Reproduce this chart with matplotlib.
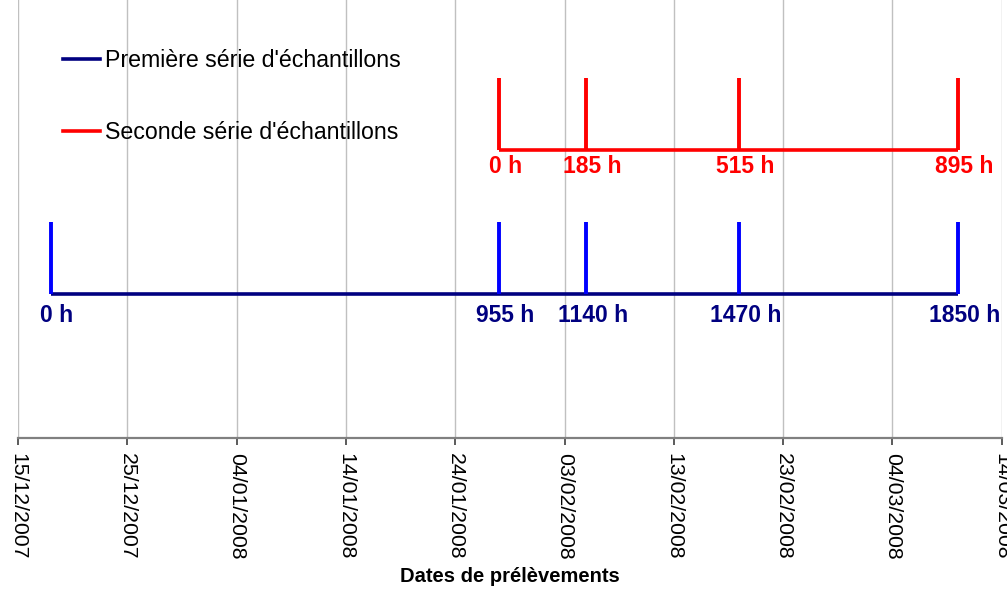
import pandas as pd
import matplotlib
matplotlib.use('Agg')
import matplotlib.pyplot as plt
import matplotlib.dates as mdates
from matplotlib.patches import Rectangle
from matplotlib.lines import Line2D

plt.rcParams['font.family'] = ['Liberation Sans', 'DejaVu Sans']

# données
serie1_dates = pd.to_datetime(['2007-12-18', '2008-01-28', '2008-02-05', '2008-02-19', '2008-03-10'])
serie1_heures = [0, 955, 1140, 1470, 1850]
serie2_dates = pd.to_datetime(['2008-01-28', '2008-02-05', '2008-02-19', '2008-03-10'])
serie2_heures = [0, 185, 515, 895]
noms = ["Première série d'échantillons", "Seconde série d'échantillons"]
debut, fin = pd.Timestamp('2007-12-15'), pd.Timestamp('2008-03-14')
ticks = pd.date_range(debut, fin, freq='10D')

navy, bleu, rouge = '#000080', '#0000FF', '#FF0000'

fig = plt.figure(figsize=(10.07, 5.89), dpi=100)
ax = fig.add_axes([18 / 1007, 1 - 438 / 589, (1001.7 - 18) / 1007, 438 / 589])

ax.set_xlim(debut, fin)
ax.set_ylim(0, 3.04)
ax.set_xticks(ticks)
ax.xaxis.set_major_formatter(mdates.DateFormatter('%d/%m/%Y'))
ax.grid(axis='x', color='#C0C0C0', lw=1, zorder=0)
ax.set_yticks([])
for s in ['left', 'right', 'top']:
    ax.spines[s].set_visible(False)
ax.spines['bottom'].set_color('#808080')
ax.spines['bottom'].set_linewidth(1.6)
ax.tick_params(axis='x', length=5, width=1.2, color='#404040', labelsize=15.3,
               labelrotation=-90, pad=6)
for lab in ax.get_xticklabels():
    lab.set_va('top')
    lab.set_ha('center')

# cache blanc derrière la légende
ax.add_patch(Rectangle((-0.02, (438 - 163) / 438), (440 - 18) / 983.7 + 0.02, 1,
                       transform=ax.transAxes, facecolor='white', edgecolor='none', zorder=1))

# première série
ax.plot([serie1_dates[0], serie1_dates[-1]], [1, 1], color=navy, lw=2.6, zorder=3, solid_capstyle='butt')
ax.vlines(serie1_dates, 1, 1.5, color=bleu, lw=2.8, zorder=4)
for d, h in zip(serie1_dates, serie1_heures):
    ax.annotate(f'{h} h', (d, 1), xytext=(4.5, -20), textcoords='offset points',
                ha='center', va='baseline', color=navy, fontsize=16.5, fontweight='bold')

# seconde série
ax.plot([serie2_dates[0], serie2_dates[-1]], [2, 2], color=rouge, lw=2.6, zorder=3, solid_capstyle='butt')
ax.vlines(serie2_dates, 2, 2.5, color=rouge, lw=2.8, zorder=4)
for d, h in zip(serie2_dates, serie2_heures):
    ax.annotate(f'{h} h', (d, 2), xytext=(4.5, -17), textcoords='offset points',
                ha='center', va='baseline', color=rouge, fontsize=16.5, fontweight='bold')

handles = [Line2D([], [], color=navy, lw=2.6), Line2D([], [], color=rouge, lw=2.6)]
leg = ax.legend(handles, noms, loc='upper left', bbox_to_anchor=(36 / 983.7, 1 - 40 / 438),
                frameon=False, fontsize=16.7, handlelength=1.6, handletextpad=0.2,
                labelspacing=2.1, borderaxespad=0)
leg.set_zorder(5)

ax.set_xlabel('Dates de prélèvements', fontsize=14.5, fontweight='bold', va='center')
ax.xaxis.set_label_coords(0.5, -(577 - 438) / 438)

fig.savefig('out.png', dpi=100)
